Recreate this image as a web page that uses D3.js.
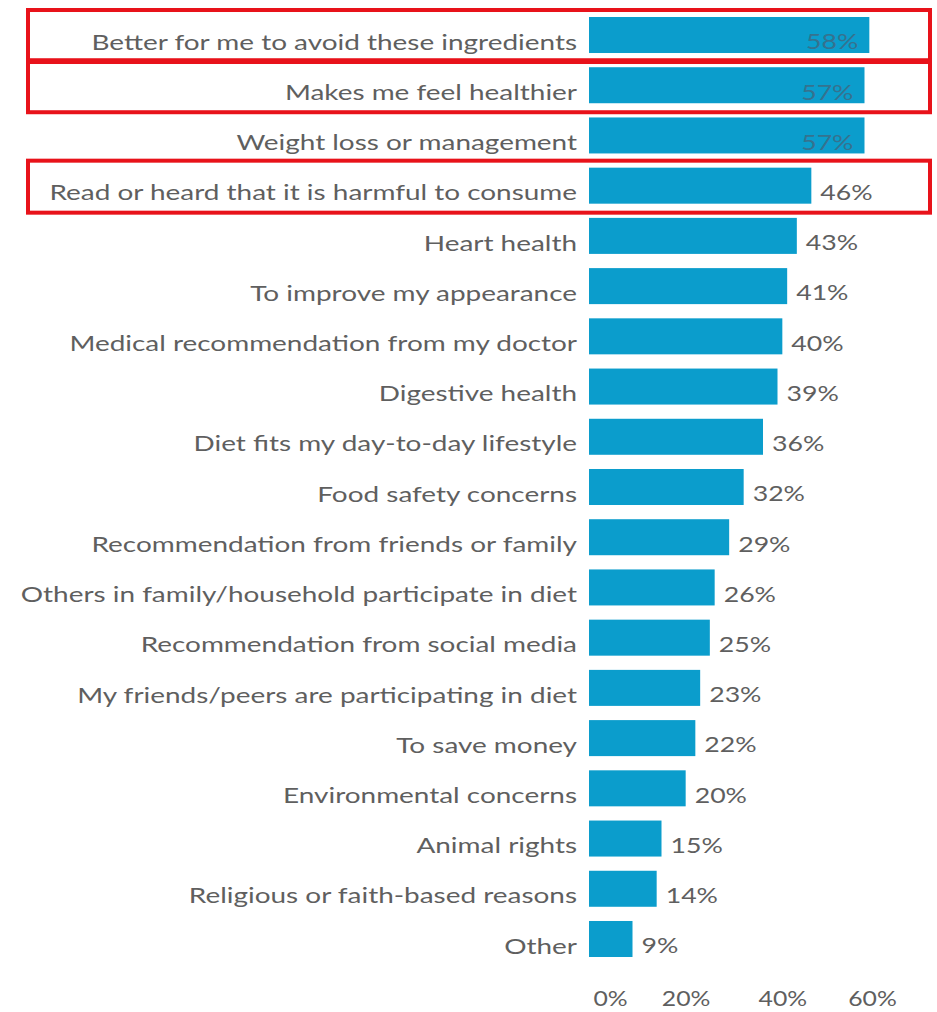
<!DOCTYPE html>
<html>
<head>
<meta charset="utf-8">
<script src="https://cdn.jsdelivr.net/npm/d3@7"></script>
<style>
  html, body { margin: 0; padding: 0; background: #fff; }
  svg { display: block; }
  text { font-family: Lato, "Open Sans", sans-serif; fill: #5f5f5f; }
</style>
</head>
<body>
<svg id="chart" width="937" height="1012"></svg>
<script>
const categories = [
  "Better for me to avoid these ingredients",
  "Makes me feel healthier",
  "Weight loss or management",
  "Read or heard that it is harmful to consume",
  "Heart health",
  "To improve my appearance",
  "Medical recommendation from my doctor",
  "Digestive health",
  "Diet fits my day-to-day lifestyle",
  "Food safety concerns",
  "Recommendation from friends or family",
  "Others in family/household participate in diet",
  "Recommendation from social media",
  "My friends/peers are participating in diet",
  "To save money",
  "Environmental concerns",
  "Animal rights",
  "Religious or faith-based reasons",
  "Other"
];
const values = [58, 57, 57, 46, 43, 41, 40, 39, 36, 32, 29, 26, 25, 23, 22, 20, 15, 14, 9];
const tickValues = [0, 20, 40, 60];
const highlighted = [
  "Better for me to avoid these ingredients",
  "Makes me feel healthier",
  "Read or heard that it is harmful to consume"
];
const insideLabels = [
  "Better for me to avoid these ingredients",
  "Makes me feel healthier",
  "Weight loss or management"
];

const STRETCH = 1.27;
const svg = d3.select("#chart");
const x = d3.scaleLinear().domain([0, 60]).range([589, 879]);
const y = d3.scaleBand().domain(categories).range([9.9, 964.1])
  .paddingInner(0.283).paddingOuter(0.1415);

const data = categories.map((c, i) => ({ cat: c, val: values[i] }));

// bars
svg.append("g").selectAll("rect").data(data).join("rect")
  .attr("x", x(0))
  .attr("y", d => y(d.cat))
  .attr("width", d => x(d.val) - x(0))
  .attr("height", y.bandwidth())
  .attr("fill", "#0b9dcc");

// category labels
svg.append("g").selectAll("text").data(data).join("text")
  .attr("transform", d => `translate(${x(0) - 12},${y(d.cat) + y.bandwidth() / 2 + 7}) scale(${STRETCH},1)`)
  .attr("dy", "0.35em")
  .attr("text-anchor", "end")
  .style("font-size", "22px")
  .text(d => d.cat);

// value labels
svg.append("g").selectAll("text").data(data).join("text")
  .attr("transform", d => {
    const tx = insideLabels.includes(d.cat) ? x(d.val) - 11 : x(d.val) + 9;
    return `translate(${tx},${y(d.cat) + y.bandwidth() / 2 + 7}) scale(${STRETCH},1)`;
  })
  .attr("dy", "0.35em")
  .attr("text-anchor", d => insideLabels.includes(d.cat) ? "end" : "start")
  .style("font-size", "21px")
  .style("fill", d => insideLabels.includes(d.cat) ? "#35728f" : "#5f5f5f")
  .text(d => d.val + "%");

// x axis
const axis = d3.axisBottom(x).tickValues(tickValues).tickFormat(d => d + "%").tickSize(0);
const gx = svg.append("g").attr("transform", "translate(0,991)").call(axis);
gx.select(".domain").remove();
gx.selectAll("text")
  .style("font-size", "21px")
  .style("font-family", "Lato, 'Open Sans', sans-serif")
  .style("fill", "#5f5f5f")
  .attr("y", 0)
  .attr("dy", "0.71em")
  .attr("transform", (d, i) => {
    const off = i === 0 ? 21 : (i === tickValues.length - 1 ? -7 : 0);
    return `translate(${off},0) scale(1.18,1)`;
  });

// highlight boxes
svg.append("g").selectAll("rect").data(highlighted).join("rect")
  .attr("x", 28)
  .attr("y", d => y(d) + y.bandwidth() / 2 - 25)
  .attr("width", 902)
  .attr("height", 52)
  .attr("fill", "none")
  .attr("stroke", "#e8121a")
  .attr("stroke-width", 4);
</script>
</body>
</html>
